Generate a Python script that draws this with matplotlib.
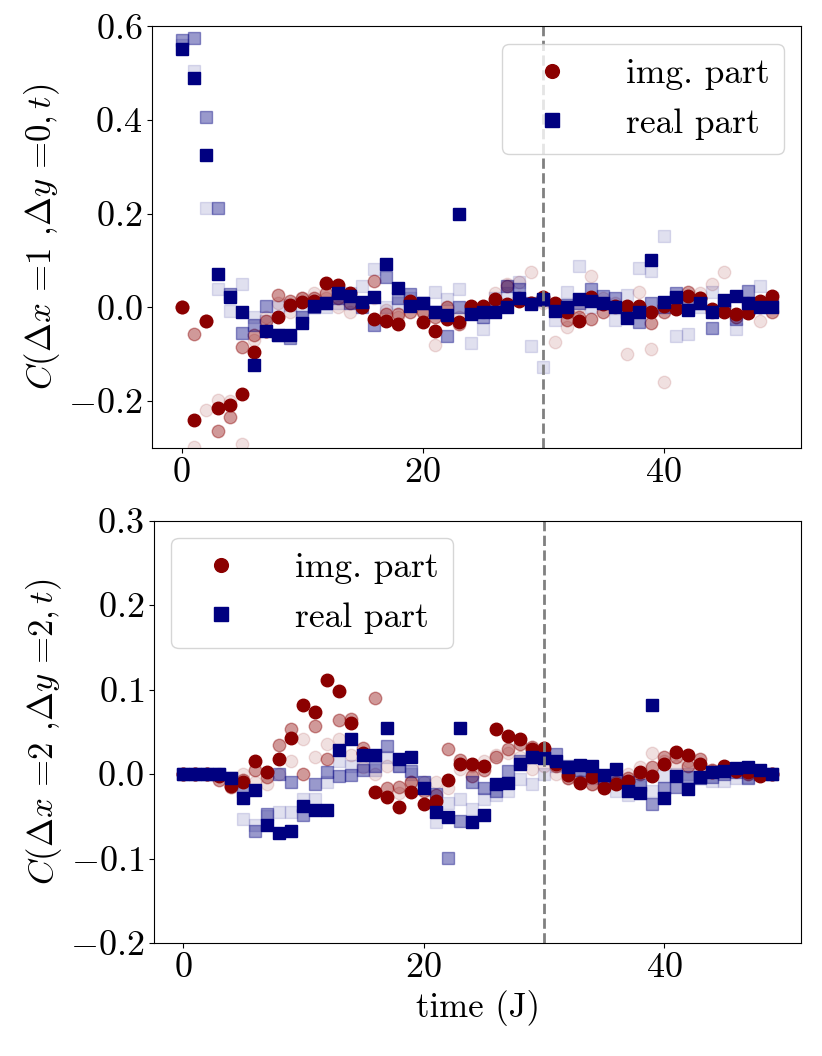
import numpy as np
import matplotlib
matplotlib.use("Agg")
import matplotlib.pyplot as plt

plt.rcParams['font.family'] = 'serif'
plt.rcParams['font.serif'] = ['cmr10', 'DejaVu Serif']
plt.rcParams['mathtext.fontset'] = 'cm'
plt.rcParams['axes.formatter.use_mathtext'] = True
plt.rcParams['font.size'] = 25

t = np.arange(50)

# ---- top panel: C(dx=1, dy=0, t) ----
top_img = [0.0, -0.24, -0.03, -0.216, -0.209, -0.185, -0.096, -0.05, -0.021, 0.004,
           0.011, 0.013, 0.052, 0.047, 0.03, 0.0, -0.024, -0.03, -0.035, 0.014,
           -0.031, -0.051, -0.026, -0.032, 0.003, 0.003, 0.017, 0.006, 0.014, 0.01,
           0.021, 0.01, -0.01, -0.03, 0.021, 0.008, 0.003, 0.003, 0.003, -0.011,
           0.003, -0.003, 0.024, 0.019, -0.004, -0.01, -0.015, -0.013, 0.014, 0.024]
top_real = [0.551, 0.489, 0.325, 0.071, 0.022, -0.009, -0.123, -0.051, -0.06, -0.06,
            -0.034, 0.002, 0.01, 0.03, 0.025, 0.012, 0.022, 0.092, 0.042, 0.003,
            0.009, -0.01, -0.017, 0.2, -0.015, -0.011, -0.011, 0.0, 0.019, 0.006,
            0.017, -0.008, 0.0, 0.017, 0.014, 0.01, 0.0, -0.022, -0.011, 0.101,
            0.011, 0.021, -0.006, 0.01, -0.011, 0.016, 0.024, 0.01, 0.0, 0.0]
top_img_mid = [0.0, -0.058, -0.03, -0.264, -0.235, -0.084, -0.06, -0.03, 0.026, 0.013,
               0.02, 0.02, 0.03, 0.02, 0.01, 0.0, 0.057, -0.015, -0.015, -0.01,
               -0.01, -0.02, 0.0, -0.035, -0.01, 0.0, 0.01, 0.046, 0.02, 0.01,
               0.015, 0.0, -0.027, -0.02, -0.026, -0.01, 0.0, 0.0, 0.0, -0.033,
               -0.01, 0.0, 0.033, 0.02, -0.01, 0.0, -0.02, -0.01, 0.0, -0.011]
top_real_mid = [0.57, 0.575, 0.406, 0.213, 0.028, -0.054, -0.037, 0.003, -0.06, -0.065,
                -0.02, 0.0, 0.01, 0.02, 0.01, 0.0, -0.037, 0.064, 0.02, 0.028,
                0.01, -0.01, -0.062, 0.0, -0.005, -0.02, 0.0, 0.046, 0.04, 0.01,
                0.015, 0.0, 0.005, 0.01, 0.04, 0.024, 0.019, -0.01, -0.032, 0.01,
                0.0, 0.03, 0.005, 0.01, -0.044, 0.005, -0.026, 0.035, 0.01, 0.005]
top_img_faint = [0.0, -0.298, -0.219, -0.198, -0.2, -0.292, -0.07, -0.02, 0.01, -0.01,
                 0.02, 0.03, 0.02, 0.0, -0.01, 0.0, 0.02, -0.005, -0.02, 0.005,
                 -0.01, -0.08, 0.0, -0.02, 0.0, -0.01, 0.03, 0.05, 0.055, 0.076,
                 0.01, -0.075, -0.042, 0.0, 0.067, 0.02, 0.01, -0.099, 0.032, -0.089,
                 -0.16, 0.0, 0.01, 0.03, 0.05, 0.075, -0.02, 0.01, -0.03, 0.02]
top_real_faint = [0.56, 0.505, 0.213, 0.04, -0.008, 0.05, -0.02, -0.03, 0.0, 0.005,
                  -0.01, 0.0, 0.0, 0.01, 0.03, 0.046, 0.082, 0.0, 0.01, 0.02,
                  0.01, 0.033, 0.017, 0.039, -0.076, -0.047, 0.02, 0.03, 0.053, -0.083,
                  -0.128, -0.027, 0.033, 0.089, 0.0, 0.01, -0.027, 0.026, 0.083, 0.078,
                  0.152, -0.062, -0.056, 0.0, 0.032, 0.01, -0.046, 0.01, 0.046, 0.02]

# ---- bottom panel: C(dx=2, dy=2, t) ----
bot_img = [0.0, 0.0, 0.0, -0.002, -0.014, -0.01, 0.016, 0.002, 0.018, 0.043,
           0.082, 0.074, 0.111, 0.098, 0.06, 0.025, -0.021, -0.027, -0.039, -0.021,
           -0.035, -0.032, -0.007, 0.012, 0.012, 0.01, 0.053, 0.045, 0.041, 0.03,
           0.031, 0.012, -0.001, -0.011, -0.004, -0.017, -0.012, -0.008, 0.002, -0.002,
           0.012, 0.026, 0.023, 0.012, 0.002, 0.01, 0.004, 0.002, -0.002, 0.0]
bot_real = [0.0, 0.0, 0.0, 0.0, -0.005, -0.028, -0.019, -0.06, -0.07, -0.067,
            -0.038, -0.043, -0.042, 0.028, 0.041, 0.022, 0.022, 0.054, 0.018, 0.02,
            -0.016, -0.045, -0.051, 0.054, -0.057, -0.048, -0.012, -0.011, 0.012, 0.02,
            0.019, 0.016, 0.008, 0.011, 0.009, -0.001, 0.006, -0.02, -0.023, 0.082,
            -0.028, -0.002, -0.018, -0.003, 0.002, 0.004, 0.007, 0.008, 0.005, 0.0]
bot_img_mid = [0.0, 0.0, 0.0, -0.007, -0.015, -0.007, 0.005, -0.004, 0.034, 0.053,
               0.0, 0.057, 0.018, 0.064, 0.065, 0.031, 0.09, -0.016, -0.015, -0.01,
               -0.02, -0.025, 0.03, 0.017, -0.002, 0.005, 0.02, 0.03, 0.035, 0.032,
               0.02, 0.01, -0.005, -0.01, -0.012, -0.012, -0.01, -0.005, 0.0, 0.008,
               0.02, 0.02, 0.01, 0.018, 0.005, 0.005, 0.004, 0.0, 0.0, 0.0]
bot_real_mid = [0.0, 0.0, 0.0, 0.0, -0.005, -0.02, -0.067, -0.047, 0.0, -0.01,
                -0.049, -0.012, 0.002, -0.002, -0.001, 0.005, 0.01, 0.033, 0.01, 0.004,
                -0.01, -0.024, -0.099, -0.055, -0.01, -0.016, -0.02, 0.004, 0.015, 0.02,
                0.02, 0.024, 0.01, 0.005, 0.0, -0.005, -0.01, -0.01, -0.013, -0.036,
                -0.017, -0.015, -0.004, -0.005, -0.003, 0.0, 0.002, -0.005, 0.0, 0.0]
bot_img_faint = [0.0, 0.0, 0.0, 0.0, -0.01, 0.0, -0.01, -0.012, 0.0, 0.016,
                 0.041, 0.02, 0.036, 0.042, 0.022, 0.008, 0.0, 0.01, -0.022, -0.01,
                 -0.01, -0.01, -0.016, 0.006, 0.01, 0.015, 0.022, 0.025, 0.02, 0.006,
                 0.01, 0.0, -0.005, -0.008, -0.012, -0.01, -0.005, 0.0, 0.008, 0.025,
                 0.015, 0.01, 0.015, 0.01, 0.005, 0.005, 0.002, 0.0, 0.0, 0.0]
bot_real_faint = [0.0, 0.0, 0.0, 0.0, -0.01, -0.053, -0.06, -0.05, -0.045, -0.045,
                  -0.03, -0.029, -0.01, 0.015, 0.01, 0.01, 0.005, 0.02, 0.01, 0.0,
                  -0.01, -0.057, -0.034, -0.03, -0.041, -0.03, -0.025, -0.02, -0.006, -0.012,
                  0.0, 0.01, 0.005, 0.0, -0.005, -0.01, -0.02, -0.025, -0.015, -0.02,
                  -0.002, 0.0, 0.0, -0.005, -0.008, -0.008, -0.005, -0.003, 0.0, 0.0]

t_cut = 30
red = 'darkred'
blue = 'navy'
ms = 9

fig = plt.figure(figsize=(8.22, 10.56), dpi=100)
ax1 = fig.add_axes([0.185, 0.576, 0.79, 0.399])
ax2 = fig.add_axes([0.187, 0.107, 0.788, 0.400])

panels = [
    (ax1, [(top_img_faint, top_real_faint, 0.12), (top_img_mid, top_real_mid, 0.4), (top_img, top_real, 1.0)],
     r"$C(\Delta x$ =1 ,$\Delta y$ =0$, t)$", (-0.3, 0.6), np.arange(-0.2, 0.61, 0.2), 'upper right'),
    (ax2, [(bot_img_faint, bot_real_faint, 0.12), (bot_img_mid, bot_real_mid, 0.4), (bot_img, bot_real, 1.0)],
     r"$C(\Delta x$ =2 ,$\Delta y$ =2$, t)$", (-0.2, 0.3), np.arange(-0.2, 0.31, 0.1), 'upper left'),
]

for ax, series, ylab, ylim, yticks, loc in panels:
    for img, real, a in series:
        lab_i = 'img. part' if a == 1.0 else None
        lab_r = 'real part' if a == 1.0 else None
        ax.plot(t, img, 'o', color=red, alpha=a, ms=ms, label=lab_i)
        ax.plot(t, real, 's', color=blue, alpha=a, ms=ms, label=lab_r)
    ax.axvline(t_cut, color='gray', ls='--', lw=2)
    ax.set_ylim(*ylim)
    ax.set_yticks(np.round(yticks, 2))
    ax.set_xticks([0, 20, 40])
    ax.set_ylabel(ylab, fontsize=25)
    ax.tick_params(labelsize=26)
    ax.legend(loc=loc, fontsize=25.5, handletextpad=1.1, markerscale=1.1)

ax2.set_xlabel('time (J)', fontsize=25)

fig.savefig('out.png', dpi=100)
